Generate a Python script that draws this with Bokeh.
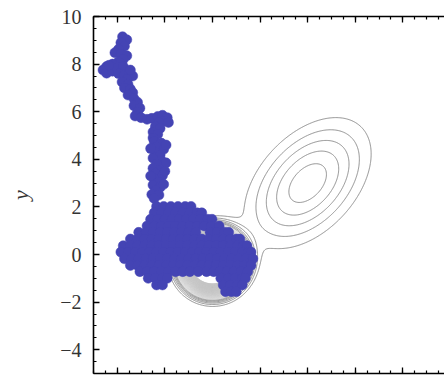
import numpy as np
from bokeh.plotting import figure
from bokeh.models import SingleIntervalTicker, LinearAxis, Range1d
from bokeh.embed import file_html
from bokeh.resources import INLINE

# ---- Metropolis random-walk samples -------------------------------------
# trail that drifts down from the start point into the lower mode
trail_x = [-3.78, -3.6, -3.85, -3.7, -3.95, -4.1, -3.85, -3.6, -3.75, -3.95,
           -4.2, -4.45, -4.6, -4.45, -4.2, -4.0, -3.75, -3.95, -3.7, -3.5,
           -3.35, -3.6, -3.8, -3.55, -3.7, -3.45, -3.35, -3.55, -3.3, -3.15,
           -3.3, -3.05, -3.15, -3.25, -3.0, -2.75, -2.55, -2.3, -2.1, -1.9,
           -2.05, -1.85, -2.25, -2.4, -2.2, -2.5, -2.3, -2.5, -2.45, -2.15,
           -2.35, -2.05, -2.4, -2.2, -2.5, -2.15, -1.95, -2.35, -2.5, -2.2,
           -2.4, -2.1, -2.45, -2.25, -2.5, -2.2, -2.4, -2.55, -2.25, -2.45,
           -1.95, -2.0, -2.05, -2.6, -2.6, -4.35, -3.45]
trail_y = [9.15, 9.02, 8.9, 8.75, 8.62, 8.48, 8.42, 8.35, 8.2, 8.1,
           8.0, 7.9, 7.75, 7.62, 7.7, 7.85, 7.9, 7.6, 7.55, 7.62,
           7.5, 7.35, 7.25, 7.15, 7.0, 6.95, 6.8, 6.7, 6.55, 6.4,
           6.25, 6.15, 5.98, 5.82, 5.75, 5.68, 5.72, 5.8, 5.85, 5.75,
           5.6, 5.55, 5.55, 5.38, 5.3, 5.15, 5.05, 4.9, 4.75, 4.68,
           4.52, 4.42, 4.3, 4.18, 4.05, 3.95, 3.85, 3.8, 3.62, 3.55,
           3.4, 3.32, 3.18, 3.05, 2.92, 2.82, 2.68, 2.52, 2.5, 2.35,
           4.6, 3.5, 2.95, 4.45, 3.3, 7.95, 7.75]

# samples settled around the lower mode, listed row by row
cloud_x = (
    [-2.35, -2.05, -1.75, -1.45, -1.15, -0.9]
    + [-2.45, -2.15, -1.85, -1.55, -1.25, -0.95, -0.65, -0.45]
    + [-2.6, -2.3, -2.0, -1.7, -1.4, -1.1, -0.8, -0.5, -0.2, -0.02]
    + [-2.75, -2.45, -2.15, -1.85, -1.55, -1.25, -0.95, -0.65, -0.35, -0.05, 0.28]
    + [-3.1, -2.8, -2.5, -2.2, -1.9, -1.6, -1.3, -1.0, -0.7, -0.1, 0.2, 0.5, 0.68]
    + [-3.45, -3.15, -2.85, -2.55, -2.25, -1.95, -1.65, -1.35, -1.05, -0.75,
       -0.45, -0.15, 0.15, 0.45, 0.75, 1.0, 1.15]
    + [-3.75, -3.45, -3.15, -2.85, -2.55, -2.25, -1.95, -1.65, -1.35, -1.05,
       -0.75, -0.45, -0.15, 0.15, 0.45, 0.75, 1.05, 1.3, 1.45]
    + [-3.85, -3.55, -3.25, -2.95, -2.65, -2.35, -2.05, -1.75, -1.45, -1.15,
       -0.85, -0.55, -0.25, 0.05, 0.35, 0.65, 0.95, 1.25, 1.5, 1.62]
    + [-3.7, -3.4, -3.1, -2.8, -2.5, -2.2, -1.9, -1.6, -1.3, -1.0,
       -0.7, -0.4, -0.1, 0.2, 0.5, 0.8, 1.1, 1.4, 1.7]
    + [-3.45, -3.15, -2.85, -2.55, -2.25, -1.95, -1.65, -1.35, -1.05, -0.75,
       -0.45, -0.15, 0.15, 0.45, 0.75, 1.05, 1.35, 1.62]
    + [-3.05, -2.75, -2.45, -2.15, -1.85, -1.55, -1.25, -0.95, -0.6, -0.25,
       0.05, 0.3, 0.6, 0.9, 1.2, 1.48]
    + [-2.7, -2.4, -2.1, -1.9, 0.35, 0.65, 0.95, 1.25, 1.38]
    + [-2.35, -2.1, 0.45, 0.75, 1.05, 1.25]
    + [0.55, 0.8, 1.0]
)
cloud_y = (
    [2.02] * 6 + [1.75] * 8 + [1.48] * 10 + [1.2] * 11 + [0.93] * 13
    + [0.65] * 17 + [0.37] * 19 + [0.1] * 20 + [-0.18] * 19 + [-0.46] * 18
    + [-0.72] * 16 + [-1.0] * 9 + [-1.28] * 6 + [-1.56] * 3
)

# ---- target density: a narrow, tall mode and a broad, tilted one --------
low_peak = 40.0
low_center = (0.0, -0.3)
low_sd = 0.6
high_peak = 1.0
high_center = (4.0, 3.0)
high_sd_major = 2.1
high_sd_minor = 1.3
high_angle_deg = 47.0

outer_levels = [0.3, 0.45, 0.6, 0.75, 0.9, 1.05]
inner_levels = list(np.round(np.arange(1.2, 12.0, 0.15), 3))

gx = np.linspace(-5, 10, 451)
gy = np.linspace(-5, 10, 451)
X, Y = np.meshgrid(gx, gy)
r2 = (X - low_center[0]) ** 2 + (Y - low_center[1]) ** 2
low = low_peak * np.exp(-r2 / (2 * low_sd ** 2))
th = np.radians(high_angle_deg)
dx, dy = X - high_center[0], Y - high_center[1]
u = dx * np.cos(th) + dy * np.sin(th)
v = -dx * np.sin(th) + dy * np.cos(th)
high = high_peak * np.exp(-0.5 * ((u / high_sd_major) ** 2 + (v / high_sd_minor) ** 2))
Z = low + high

p = figure(width=444, height=380,
           x_range=Range1d(-5, 9.75), y_range=Range1d(-5, 10),
           output_backend="svg", toolbar_location=None,
           x_axis_location=None, y_axis_location=None,
           min_border_left=93, min_border_right=0,
           min_border_top=16, min_border_bottom=7)
p.outline_line_color = None
p.grid.visible = False
p.background_fill_color = "white"
p.border_fill_color = "white"

p.contour(gx, gy, Z, outer_levels, line_color="#8e8e8e", line_width=1)
p.contour(gx, gy, Z, inner_levels, line_color="#c4c4c4", line_width=0.6)

p.scatter(trail_x + cloud_x, trail_y + cloud_y, size=10,
          fill_color="#4444b4", line_color="#4444b4", line_width=0.5)


def frame_axis(show_labels):
    ax = LinearAxis(ticker=SingleIntervalTicker(interval=2, num_minor_ticks=4))
    ax.axis_line_color = "black"
    ax.axis_line_width = 1.6
    ax.major_tick_in = 6
    ax.major_tick_out = 0
    ax.minor_tick_in = 3
    ax.minor_tick_out = 0
    ax.major_tick_line_color = "black"
    ax.minor_tick_line_color = "black"
    ax.major_tick_line_width = 1.3
    ax.minor_tick_line_width = 1.2
    if show_labels:
        ax.major_label_text_font = "Liberation Serif"
        ax.major_label_text_font_size = "20px"
        ax.major_label_text_color = "#333333"
        ax.major_label_standoff = 12
    else:
        # frame side with ticks only
        ax.major_label_text_font_size = "1px"
        ax.major_label_text_color = None
        ax.major_label_standoff = 0
    return ax


left = frame_axis(True)
left.major_label_overrides = {-4: "\u22124", -2: "\u22122"}
left.axis_label = "y"
left.axis_label_text_font = "Liberation Serif"
left.axis_label_text_font_style = "italic"
left.axis_label_text_font_size = "22px"
left.axis_label_text_color = "#333333"
left.axis_label_standoff = 24
p.add_layout(left, "left")
p.add_layout(frame_axis(False), "above")
p.add_layout(frame_axis(False), "below")

open("out.html", "w").write(file_html(p, INLINE))
